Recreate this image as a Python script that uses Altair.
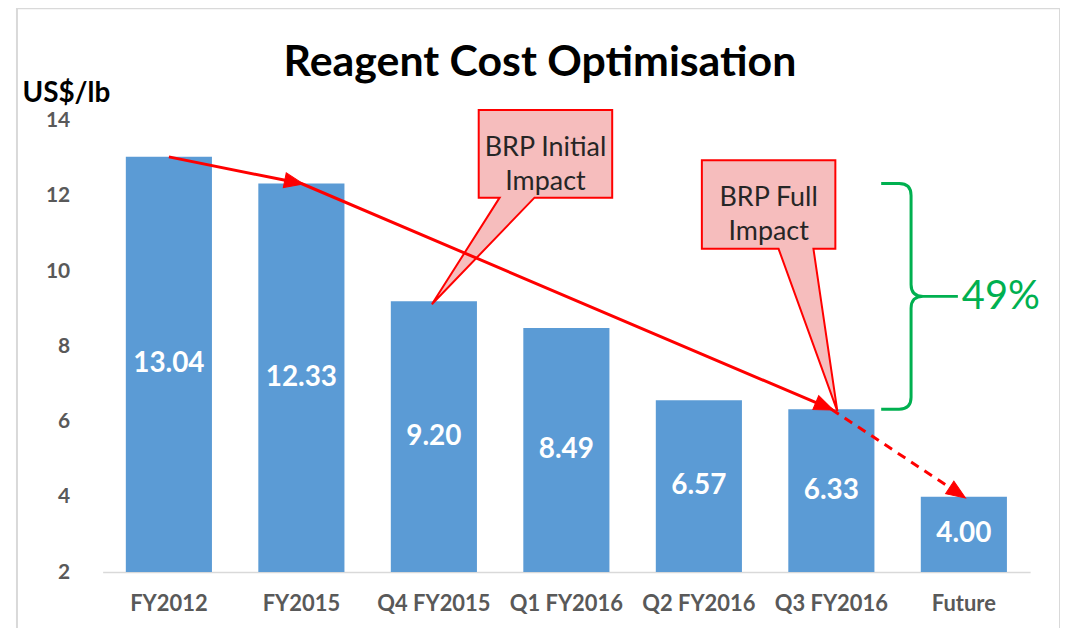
import math
import altair as alt
import pandas as pd

# ---------------- data ----------------
categories = ["FY2012", "FY2015", "Q4 FY2015", "Q1 FY2016", "Q2 FY2016", "Q3 FY2016", "Future"]
values = [13.04, 12.33, 9.20, 8.49, 6.57, 6.33, 4.00]
y_ticks = [2, 4, 6, 8, 10, 12, 14]

trend_solid_cats = ["FY2012", "FY2015", "Q3 FY2016"]
trend_dash_cats = ["Q3 FY2016", "Future"]
arrow_head_cats = ["FY2015", "Q3 FY2016", "Future"]

callout_initial_cat = "Q4 FY2015"
callout_initial_text = "BRP Initial\nImpact"
callout_full_cat = "Q3 FY2016"
callout_full_text = "BRP Full\nImpact"

brace_from_cat = "FY2015"
brace_to_cat = "Q3 FY2016"
brace_label = "49%"

title_text = "Reagent Cost Optimisation"
unit_text = "US$/lb"

# ---------------- geometry / style ----------------
W, H = 931, 453
Y_MIN, Y_MAX = 2, 14
PPU = H / (Y_MAX - Y_MIN)          # pixels per unit on y
STEP = W / len(categories)         # band step in pixels
FONT = "Lato"
BAR_BLUE = "#5B9BD5"
RED = "#FF0000"
GREEN = "#00B050"
GREY = "#595959"

val_of = dict(zip(categories, values))
idx_of = {c: i for i, c in enumerate(categories)}

bars_df = pd.DataFrame({
    "cat": categories,
    "val": values,
    "mid": [(Y_MIN + v) / 2 for v in values],
    "lbl": [f"{v:.2f}" for v in values],
})

solid_df = pd.DataFrame({"cat": trend_solid_cats, "val": [val_of[c] for c in trend_solid_cats],
                         "ord": list(range(len(trend_solid_cats)))})
dash_df = pd.DataFrame({"cat": trend_dash_cats, "val": [val_of[c] for c in trend_dash_cats],
                        "ord": list(range(len(trend_dash_cats)))})


def seg_angle(c0, c1):
    dx = (idx_of[c1] - idx_of[c0]) * STEP
    dy = (val_of[c0] - val_of[c1]) * PPU
    return math.degrees(math.atan2(dy, dx))


prev = {"FY2015": "FY2012", "Q3 FY2016": "FY2015", "Future": "Q3 FY2016"}
heads_df = pd.DataFrame({
    "cat": arrow_head_cats,
    "val": [val_of[c] for c in arrow_head_cats],
    "ang": [seg_angle(prev[c], c) for c in arrow_head_cats],
})

x_scale = alt.Scale(domain=categories, paddingInner=0.35, paddingOuter=0.175)
y_scale = alt.Scale(domain=[Y_MIN, Y_MAX], nice=False, zero=False)

x_axis = alt.Axis(title=None, labelAngle=0, labelFont=FONT, labelFontWeight="bold",
                  labelFontSize=22, labelColor=GREY, ticks=False, domainColor="#D9D9D9",
                  domainWidth=1.5, labelPadding=22, grid=False)
y_axis = alt.Axis(values=y_ticks, title=unit_text, titleAngle=0, titleX=-81, titleY=-19,
                  titleAlign="left", titleBaseline="alphabetic", titleFont=FONT,
                  titleFontSize=28, titleFontWeight="bold", titleColor="black",
                  labelFont=FONT, labelFontWeight="bold", labelFontSize=21,
                  labelColor=GREY, labelPadding=33, ticks=False, domain=False,
                  grid=False)


def X():
    return alt.X("cat:N", sort=categories, scale=x_scale, axis=x_axis)


def Y(field):
    return alt.Y(f"{field}:Q", scale=y_scale, axis=y_axis)


# frame around the whole picture and the title
deco_df = pd.DataFrame({"t": [title_text]})
frame = alt.Chart(deco_df).mark_rect(
    fill="transparent", stroke="#D9D9D9", strokeWidth=2
).encode(x=alt.value(-86), x2=alt.value(961), y=alt.value(-113), y2=alt.value(530))
title = alt.Chart(deco_df).mark_text(
    font=FONT, fontSize=43, fontWeight="bold", color="black", align="center",
    baseline="alphabetic"
).encode(x=alt.value(439), y=alt.value(-45), text="t:N")

bars = alt.Chart(bars_df).mark_bar(color=BAR_BLUE).encode(
    x=X(), y=Y("val"), y2=alt.datum(Y_MIN)
)

bar_labels = alt.Chart(bars_df).mark_text(
    color="white", font=FONT, fontWeight="bold", fontSize=28, baseline="middle"
).encode(x=X(), y=Y("mid"), text="lbl:N")

# callouts (box + pointer), pixel offsets relative to the bar top they point at
CALLOUT_FILL = "#F6BDBD"
init_path = "M-2,3 L66,-104 L45,-104 L45,-192 L179,-192 L179,-104 L101,-104 Z"
full_path = "M6,2 L-18,-161 L4,-161 L4,-250 L-130,-250 L-130,-161 L-53,-161 Z"

init_df = pd.DataFrame({"cat": [callout_initial_cat], "val": [val_of[callout_initial_cat]],
                        "txt": [callout_initial_text]})
full_df = pd.DataFrame({"cat": [callout_full_cat], "val": [val_of[callout_full_cat]],
                        "txt": [callout_full_text]})

callout_init = alt.Chart(init_df).mark_point(
    shape=init_path, size=4, filled=True, fill=CALLOUT_FILL, stroke=RED, strokeWidth=2,
    opacity=1, strokeJoin="miter"
).encode(x=X(), y=Y("val"))
callout_full = alt.Chart(full_df).mark_point(
    shape=full_path, size=4, filled=True, fill=CALLOUT_FILL, stroke=RED, strokeWidth=2,
    opacity=1, strokeJoin="miter"
).encode(x=X(), y=Y("val"))

callout_init_txt = alt.Chart(init_df).mark_text(
    font=FONT, fontSize=27, color="#262626", lineBreak="\n", lineHeight=34,
    baseline="middle", dx=112, dy=-154
).encode(x=X(), y=Y("val"), text="txt:N")
callout_full_txt = alt.Chart(full_df).mark_text(
    font=FONT, fontSize=27, color="#262626", lineBreak="\n", lineHeight=34,
    baseline="middle", dx=-63, dy=-212
).encode(x=X(), y=Y("val"), text="txt:N")

# trend arrows
solid_line = alt.Chart(solid_df).mark_line(color=RED, strokeWidth=3).encode(
    x=X(), y=Y("val"), order="ord:Q"
)
dash_line = alt.Chart(dash_df).mark_line(color=RED, strokeWidth=3, strokeDash=[9, 7]).encode(
    x=X(), y=Y("val"), order="ord:Q"
)
heads = alt.Chart(heads_df).mark_point(
    shape="M2,0 L-17,-7.5 L-17,7.5 Z", size=4, filled=True, fill=RED, stroke=RED,
    strokeWidth=1, opacity=1
).encode(x=X(), y=Y("val"), angle=alt.Angle("ang:Q", scale=None))

# green brace showing the reduction from FY2015 to Q3 FY2016
b_top, b_bot = val_of[brace_from_cat], val_of[brace_to_cat]
h = (b_top - b_bot) / 2 * PPU
brace_path = (f"M50,{-h:.1f} L68,{-h:.1f} Q80,{-h:.1f} 80,{-h + 12:.1f} L80,-12 Q80,0 92,0 L127,0 "
              f"M92,0 Q80,0 80,12 L80,{h - 12:.1f} Q80,{h:.1f} 68,{h:.1f} L50,{h:.1f}")
brace_df = pd.DataFrame({"cat": [brace_to_cat], "val": [(b_top + b_bot) / 2], "txt": [brace_label]})
brace = alt.Chart(brace_df).mark_point(
    shape=brace_path, size=4, filled=False, stroke=GREEN, strokeWidth=3, opacity=1
).encode(x=X(), y=Y("val"))
brace_txt = alt.Chart(brace_df).mark_text(
    font=FONT, fontSize=40, color=GREEN, align="left", baseline="middle", dx=131, dy=1
).encode(x=X(), y=Y("val"), text="txt:N")

chart = alt.layer(
    bars, frame, title, bar_labels, callout_init, callout_full, solid_line, dash_line, heads,
    callout_init_txt, callout_full_txt, brace, brace_txt
).properties(
    width=W, height=H,
    background="white",
    autosize=alt.AutoSizeParams(type="none"),
    padding={"left": 95, "top": 112, "right": 30, "bottom": 55},
).configure_view(stroke=None, strokeWidth=0)

chart.save("out.html", embed_options={"renderer": "svg", "actions": False})
